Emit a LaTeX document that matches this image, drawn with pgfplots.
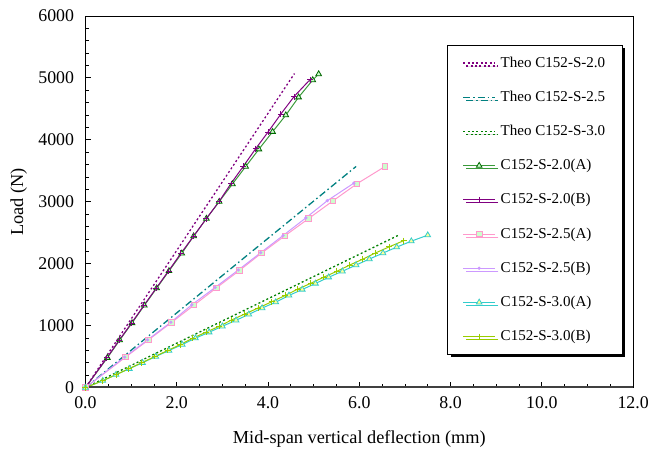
\documentclass[border=0pt]{standalone}
\usepackage{fontspec}
\setmainfont{Liberation Serif}
\usepackage{pgfplots}
\pgfplotsset{compat=1.18}
\usetikzlibrary{shadows}
\definecolor{cpurple}{HTML}{800080}
\definecolor{cteal}{HTML}{008080}
\definecolor{cgreen}{HTML}{008000}
\definecolor{lgreen}{HTML}{3A9A3A}
\definecolor{dgreen}{HTML}{006600}
\definecolor{mintfill}{HTML}{CCFFCC}
\definecolor{cpink}{HTML}{FF99CC}
\definecolor{clav}{HTML}{CC99FF}
\definecolor{cturq}{HTML}{33CCCC}
\definecolor{cyell}{HTML}{FFFF99}
\definecolor{clime}{HTML}{99CC00}
\definecolor{baxis}{HTML}{404040}
\begin{document}
\begin{tikzpicture}
\path (-86bp,-64bp) rectangle (566bp,390bp);
\begin{axis}[
  at={(0,0)}, anchor=south west,
  scale only axis, width=551bp, height=374bp,
  xmin=0, xmax=12, ymin=0, ymax=6000,
  xtick={0,2,...,12}, ytick={0,1000,...,6000},
  minor x tick num=3, minor y tick num=4,
  tick align=inside, xtick pos=bottom, ytick pos=left,
  major tick length=6bp, minor tick length=4bp,
  tick style={black, line width=0.8bp},
  axis line style={line width=0.8bp},
  /pgf/number format/assume math mode=true,
  ticklabel style={font=\fontsize{18}{20}\selectfont},
  xticklabel style={/pgf/number format/.cd, fixed, fixed zerofill, precision=1, /tikz/.cd, yshift=-6bp},
  yticklabel style={/pgf/number format/.cd, set thousands separator={}, /tikz/.cd, xshift=-8bp},
  scaled y ticks=false, scaled x ticks=false,
  xlabel={Mid-span vertical deflection (mm)}, ylabel={Load (N)},
  label style={font=\fontsize{18.5}{20}\selectfont},
  xlabel style={at={(axis description cs:0.5,-0.137)}, anchor=center},
  ylabel style={at={(axis description cs:-0.122,0.5)}, anchor=center},
  legend cell align=left,
  legend image code/.code={\draw[mark repeat=2,mark phase=2,#1] plot coordinates {(0bp,0bp) (16bp,0bp) (32bp,0bp)};},
  legend style={at={(0.6606,0.9225)}, anchor=north west, draw=black, line width=1bp, fill=white,
    drop shadow={shadow xshift=3bp, shadow yshift=-3bp, opacity=1, fill=black},
    font=\fontsize{15.2}{16}\selectfont, row sep=16.4bp, inner xsep=15bp, inner ysep=9bp,
    nodes={text height=11bp, text depth=3bp, inner sep=2bp},
    /tikz/every odd column/.append style={column sep=3bp}},
]
\addplot[cpurple, line width=1.3bp, dash pattern=on 2bp off 2.4bp] coordinates {(0,0) (2.29,2535) (4.58,5070)};
\addlegendentry{Theo C152-S-2.0}
\addplot[cteal, line width=1.3bp, dash pattern=on 7bp off 3bp on 1.5bp off 3bp] coordinates {(0,0) (2.96,1785) (5.93,3570)};
\addlegendentry{Theo C152-S-2.5}
\addplot[cgreen, line width=1.3bp, dash pattern=on 2bp off 2.4bp] coordinates {(0,0) (3.43,1230) (6.86,2460)};
\addlegendentry{Theo C152-S-3.0}
\addplot[lgreen, line width=1bp, mark=triangle*, mark size=3.3bp, mark options={draw=dgreen, fill=mintfill, solid, line width=0.8bp}] coordinates {
(0,0) (0.48,482) (0.75,766) (1.02,1043) (1.29,1327) (1.56,1605) (1.83,1883) (2.11,2167) (2.37,2445) (2.65,2729) (2.93,3002) (3.22,3286) (3.51,3568) (3.80,3848) (4.10,4130) (4.39,4398) (4.67,4687) (4.98,4965) (5.11,5061)};
\addlegendentry{C152-S-2.0(A)}
\addplot[cpurple, line width=1bp, mark=+, mark size=3bp, mark options={solid, line width=0.9bp}] coordinates {
(0,0) (0.47,482) (0.74,766) (1.01,1043) (1.28,1327) (1.55,1605) (1.82,1883) (2.09,2167) (2.37,2445) (2.65,2729) (2.93,3006) (3.19,3295) (3.46,3574) (3.73,3857) (4.00,4125) (4.28,4414) (4.57,4698) (4.92,4971)};
\addlegendentry{C152-S-2.0(B)}
\addplot[cpink, line width=1bp, mark=square*, mark size=2.8bp, mark options={draw=cpink, fill=mintfill, solid, line width=0.9bp}] coordinates {
(0,0) (0.88,493) (1.38,770) (1.88,1048) (2.38,1332) (2.87,1610) (3.37,1889) (3.86,2172) (4.37,2451) (4.89,2729) (5.42,3013) (5.95,3291) (6.56,3568)};
\addlegendentry{C152-S-2.5(A)}
\addplot[clav, line width=1bp, mark=*, mark size=1.1bp, mark options={solid}] coordinates {
(0,0) (0.86,493) (1.36,770) (1.87,1055) (2.33,1337) (2.84,1616) (3.35,1899) (3.84,2178) (4.33,2455) (4.83,2740) (5.30,3018) (5.88,3300)};
\addlegendentry{C152-S-2.5(B)}
\addplot[cturq, line width=1bp, mark=triangle*, mark size=3.3bp, mark options={draw=cturq, fill=cyell, solid, line width=0.8bp}] coordinates {
(0,0) (0.38,112) (0.67,209) (0.96,305) (1.25,401) (1.54,502) (1.83,599) (2.12,695) (2.41,798) (2.71,894) (3.00,990) (3.30,1087) (3.58,1183) (3.87,1284) (4.17,1380) (4.46,1488) (4.75,1584) (5.04,1681) (5.33,1782) (5.63,1878) (5.93,1979) (6.22,2075) (6.52,2172) (6.82,2268) (7.14,2364) (7.50,2461)};
\addlegendentry{C152-S-3.0(A)}
\addplot[clime, line width=1bp, mark=+, mark size=3bp, mark options={solid, line width=0.9bp}] coordinates {
(0,0) (0.38,112) (0.67,209) (0.95,305) (1.23,401) (1.52,502) (1.80,599) (2.08,695) (2.35,798) (2.64,894) (2.93,990) (3.20,1091) (3.49,1188) (3.78,1284) (4.08,1385) (4.38,1488) (4.65,1589) (4.94,1685) (5.22,1782) (5.51,1878) (5.79,1979) (6.07,2071) (6.35,2172) (6.66,2274) (6.97,2371)};
\addlegendentry{C152-S-3.0(B)}
\draw[baxis, line width=2.4bp] (rel axis cs:0,0) -- (rel axis cs:1,0);
\end{axis}
\end{tikzpicture}
\end{document}
